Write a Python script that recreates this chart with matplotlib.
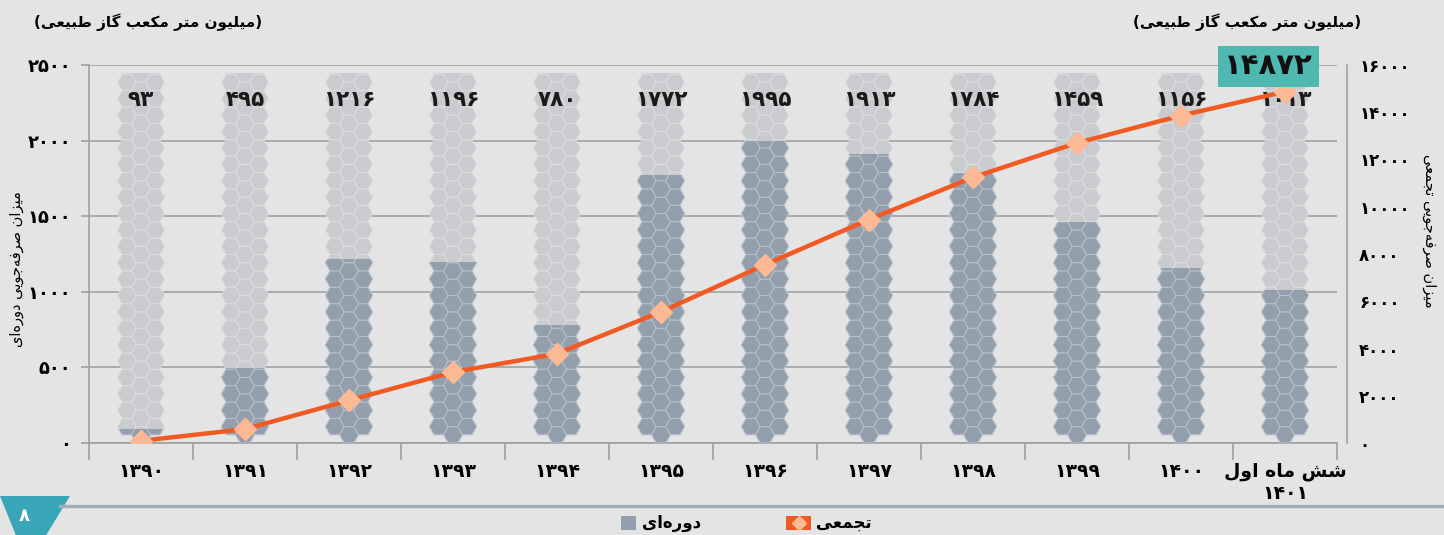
import numpy as np
import matplotlib.pyplot as plt
from matplotlib.collections import PolyCollection
from matplotlib.patches import Rectangle, Polygon
from matplotlib.lines import Line2D

# data
years = ['1390', '1391', '1392', '1393', '1394', '1395', '1396', '1397',
         '1398', '1399', '1400', 'شش ماه اول\n1401']
periodic = [93, 495, 1216, 1196, 780, 1772, 1995, 1913, 1784, 1459, 1156, 1013]
cumulative = [93, 588, 1804, 3000, 3780, 5552, 7547, 9460, 11244, 12703, 13859, 14872]
left_ticks = [0, 500, 1000, 1500, 2000, 2500]
right_ticks = [0, 2000, 4000, 6000, 8000, 10000, 12000, 14000, 16000]

unit_text = '(میلیون متر مکعب گاز طبیعی)'
left_label = 'میزان صرفه\u200cجویی دوره\u200cای'
right_label = 'میزان صرفه\u200cجویی تجمعی'
legend_bar = 'دوره\u200cای'
legend_line = 'تجمعی'

# --- minimal arabic shaping (matplotlib does no shaping / bidi) ---
FORMS = {  # isolated, final, initial, medial
    'ا': '\uFE8D\uFE8E\uFE8D\uFE8E', 'ب': '\uFE8F\uFE90\uFE91\uFE92',
    'ت': '\uFE95\uFE96\uFE97\uFE98', 'ج': '\uFE9D\uFE9E\uFE9F\uFEA0',
    'د': '\uFEA9\uFEAA\uFEA9\uFEAA', 'ر': '\uFEAD\uFEAE\uFEAD\uFEAE',
    'ز': '\uFEAF\uFEB0\uFEAF\uFEB0', 'ش': '\uFEB5\uFEB6\uFEB7\uFEB8',
    'ص': '\uFEB9\uFEBA\uFEBB\uFEBC', 'ط': '\uFEC1\uFEC2\uFEC3\uFEC4',
    'ع': '\uFEC9\uFECA\uFECB\uFECC', 'ف': '\uFED1\uFED2\uFED3\uFED4',
    'ل': '\uFEDD\uFEDE\uFEDF\uFEE0', 'م': '\uFEE1\uFEE2\uFEE3\uFEE4',
    'ن': '\uFEE5\uFEE6\uFEE7\uFEE8', 'ه': '\uFEE9\uFEEA\uFEEB\uFEEC',
    'و': '\uFEED\uFEEE\uFEED\uFEEE', 'ی': '\uFBFC\uFBFD\uFBFE\uFBFF',
    'ک': '\uFB8E\uFB8F\uFB90\uFB91', 'گ': '\uFB92\uFB93\uFB94\uFB95',
}
RIGHT_ONLY = set('ادرزو')
FA_DIGITS = str.maketrans('0123456789', '۰۱۲۳۴۵۶۷۸۹')


def fa(s):
    return str(s).translate(FA_DIGITS)


def shape_line(s):
    s = fa(s)
    out = []
    for i, c in enumerate(s):
        if c not in FORMS:
            out.append(c)
            continue
        prev = s[i - 1] if i > 0 else ''
        nxt = s[i + 1] if i + 1 < len(s) else ''
        jp = prev in FORMS and prev not in RIGHT_ONLY
        jn = c not in RIGHT_ONLY and nxt in FORMS
        f = FORMS[c]
        out.append(f[3] if jp and jn else f[1] if jp else f[2] if jn else f[0])
    txt = ''.join(out).replace('\u200c', '')
    # visual order: reverse, but keep digit runs
    tokens = []
    for c in txt:
        if c in '۰۱۲۳۴۵۶۷۸۹' and tokens and tokens[-1][-1] in '۰۱۲۳۴۵۶۷۸۹':
            tokens[-1] += c
        else:
            tokens.append(c)
    mirror = {'(': ')', ')': '('}
    return ''.join(mirror.get(t, t) for t in reversed(tokens))


def rtl(s):
    return '\n'.join(shape_line(l) for l in s.split('\n'))


plt.rcParams['font.family'] = ['DejaVu Sans']

W, H = 1444, 535
bg = '#E4E4E4'
light_bar = '#C9CBCE'
dark_bar = '#939FAC'
grid_c = '#9C9C9C'
orange = '#F15A22'
peach = '#FDB993'

fig = plt.figure(figsize=(W / 100, H / 100), dpi=100, facecolor=bg)
ax_l, ax_r, ax_t, ax_b = 89, 1337, 65, 443
ax = fig.add_axes([ax_l / W, 1 - ax_b / H, (ax_r - ax_l) / W, (ax_b - ax_t) / H])
ax.set_facecolor('none')
x = np.arange(len(years))
ax.set_xlim(-0.5, len(years) - 0.5)
ax.set_ylim(0, 2500)

ax.set_yticks(left_ticks)
ax.set_yticklabels([fa(v) for v in left_ticks], fontsize=13, fontweight='bold')
ax.yaxis.grid(True, color=grid_c, lw=1.1)
ax.set_axisbelow(True)
ax.tick_params(axis='y', length=6, color=grid_c, width=1.1, pad=7)

ax.set_xticks(x)
ax.set_xticklabels([rtl(y) for y in years], fontsize=13.5, fontweight='bold', va='top')
ax.set_xticks(np.arange(-0.5, len(years), 1), minor=True)
ax.tick_params(axis='x', which='major', length=0, pad=14)
ax.tick_params(axis='x', which='minor', length=12, color=grid_c, width=1.1)
for sp in ['top', 'right']:
    ax.spines[sp].set_visible(False)
for sp in ['left', 'bottom']:
    ax.spines[sp].set_color(grid_c)
    ax.spines[sp].set_linewidth(1.1)

# bars (background column + value column), textured with hexagons
bar_w = 0.455
bar_cap = 2450
back = ax.bar(x, [bar_cap] * len(x), width=bar_w, color='none', edgecolor='none')
front = ax.bar(x, periodic, width=bar_w, color='none', edgecolor='none')

px_x = ax.transData.transform((1, 0))[0] - ax.transData.transform((0, 0))[0]
px_y = ax.transData.transform((0, 1))[1] - ax.transData.transform((0, 0))[1]
r_px = bar_w * px_x / 5
hh_px = np.sqrt(3) / 2 * r_px
ang = np.radians(np.arange(0, 360, 60))
hx = r_px * np.cos(ang) / px_x
hy = r_px * np.sin(ang) / px_y
r_d = r_px / px_x
hh_d = hh_px / px_y


def hex_polys(xc):
    polys = []
    for k, dx in enumerate([-1.5 * r_d, 0, 1.5 * r_d]):
        y0 = hh_d if k == 1 else 2 * hh_d
        yc = y0
        while yc - hh_d < 2600:
            polys.append(np.column_stack([xc + dx + hx, yc + hy]))
            yc += 2 * hh_d
    return polys


for rect_b, rect_f, xc in zip(back, front, x):
    pc = PolyCollection(hex_polys(xc), facecolor=light_bar, edgecolor='#DCDDDE',
                        linewidth=0.7, zorder=2)
    ax.add_collection(pc)
    pc.set_clip_path(rect_b)
    pc2 = PolyCollection(hex_polys(xc), facecolor=dark_bar, edgecolor='#B9C1C9',
                         linewidth=0.7, zorder=3)
    ax.add_collection(pc2)
    pc2.set_clip_path(rect_f)

for xi, v in zip(x, periodic):
    ax.text(xi, 2268, fa(v), ha='center', va='center', fontsize=15.5,
            fontweight='bold', color='#1A1A1A', zorder=5)

# cumulative line
ax2 = ax.twinx()
ax2.set_facecolor('none')
for sp in ['top', 'left', 'bottom']:
    ax2.spines[sp].set_visible(False)
ax2.spines['right'].set_position(('outward', 7))
ax2.spines['right'].set_color(grid_c)
ax2.spines['right'].set_linewidth(1.1)
ax2.set_ylim(0, 16000)
ax2.set_yticks(right_ticks)
ax2.set_yticklabels([fa(v) for v in right_ticks], fontsize=12, fontweight='bold')
ax2.tick_params(axis='y', length=0, pad=9)
ax2.plot(x, cumulative, color=orange, lw=3.2, marker='D', markersize=11,
         markerfacecolor=peach, markeredgecolor=peach, zorder=6)

ax2.text(10.84, 15950, fa(cumulative[-1]), ha='center', va='center', fontsize=21,
         fontweight='bold', color='#111111', zorder=7,
         bbox=dict(boxstyle='square,pad=0.22', facecolor='#4FB8B0', edgecolor='none'))

# texts around the chart
fig.text(148 / W, 1 - 22 / H, rtl(unit_text), ha='center', va='center',
         fontsize=11, fontweight='bold')
fig.text(1247 / W, 1 - 22 / H, rtl(unit_text), ha='center', va='center',
         fontsize=11, fontweight='bold')
fig.text(17 / W, 1 - 269 / H, rtl(left_label), ha='center', va='center',
         rotation=90, fontsize=10.5)
fig.text(1429 / W, 1 - 231 / H, rtl(right_label), ha='center', va='center',
         rotation=270, fontsize=10.5)

# footer
fig.add_artist(Line2D([60 / W, 1], [1 - 506 / H] * 2, color='#A2ADB8', lw=2.4))
fig.add_artist(Polygon([(0, 1 - 496 / H), (70 / W, 1 - 496 / H), (28 / W, 1 - 565 / H)],
                       closed=True, facecolor='#38A6B6', edgecolor='none'))
fig.text(24 / W, 1 - 516 / H, fa(8), ha='center', va='center', color='white',
         fontsize=13, fontweight='bold')

fig.add_artist(Rectangle((621 / W, 1 - 530 / H), 15 / W, 14 / H,
                         facecolor=dark_bar, edgecolor='none'))
fig.text(642 / W, 1 - 523 / H, rtl(legend_bar), ha='left', va='center',
         fontsize=12, fontweight='bold')
fig.add_artist(Rectangle((786 / W, 1 - 530 / H), 25 / W, 14 / H,
                         facecolor=orange, edgecolor='none'))
fig.add_artist(Line2D([798.5 / W], [1 - 523 / H], marker='D', markersize=7,
                      color=peach, lw=0))
fig.text(816 / W, 1 - 523 / H, rtl(legend_line), ha='left', va='center',
         fontsize=12, fontweight='bold')

fig.savefig('out.png', dpi=100, facecolor=bg)
